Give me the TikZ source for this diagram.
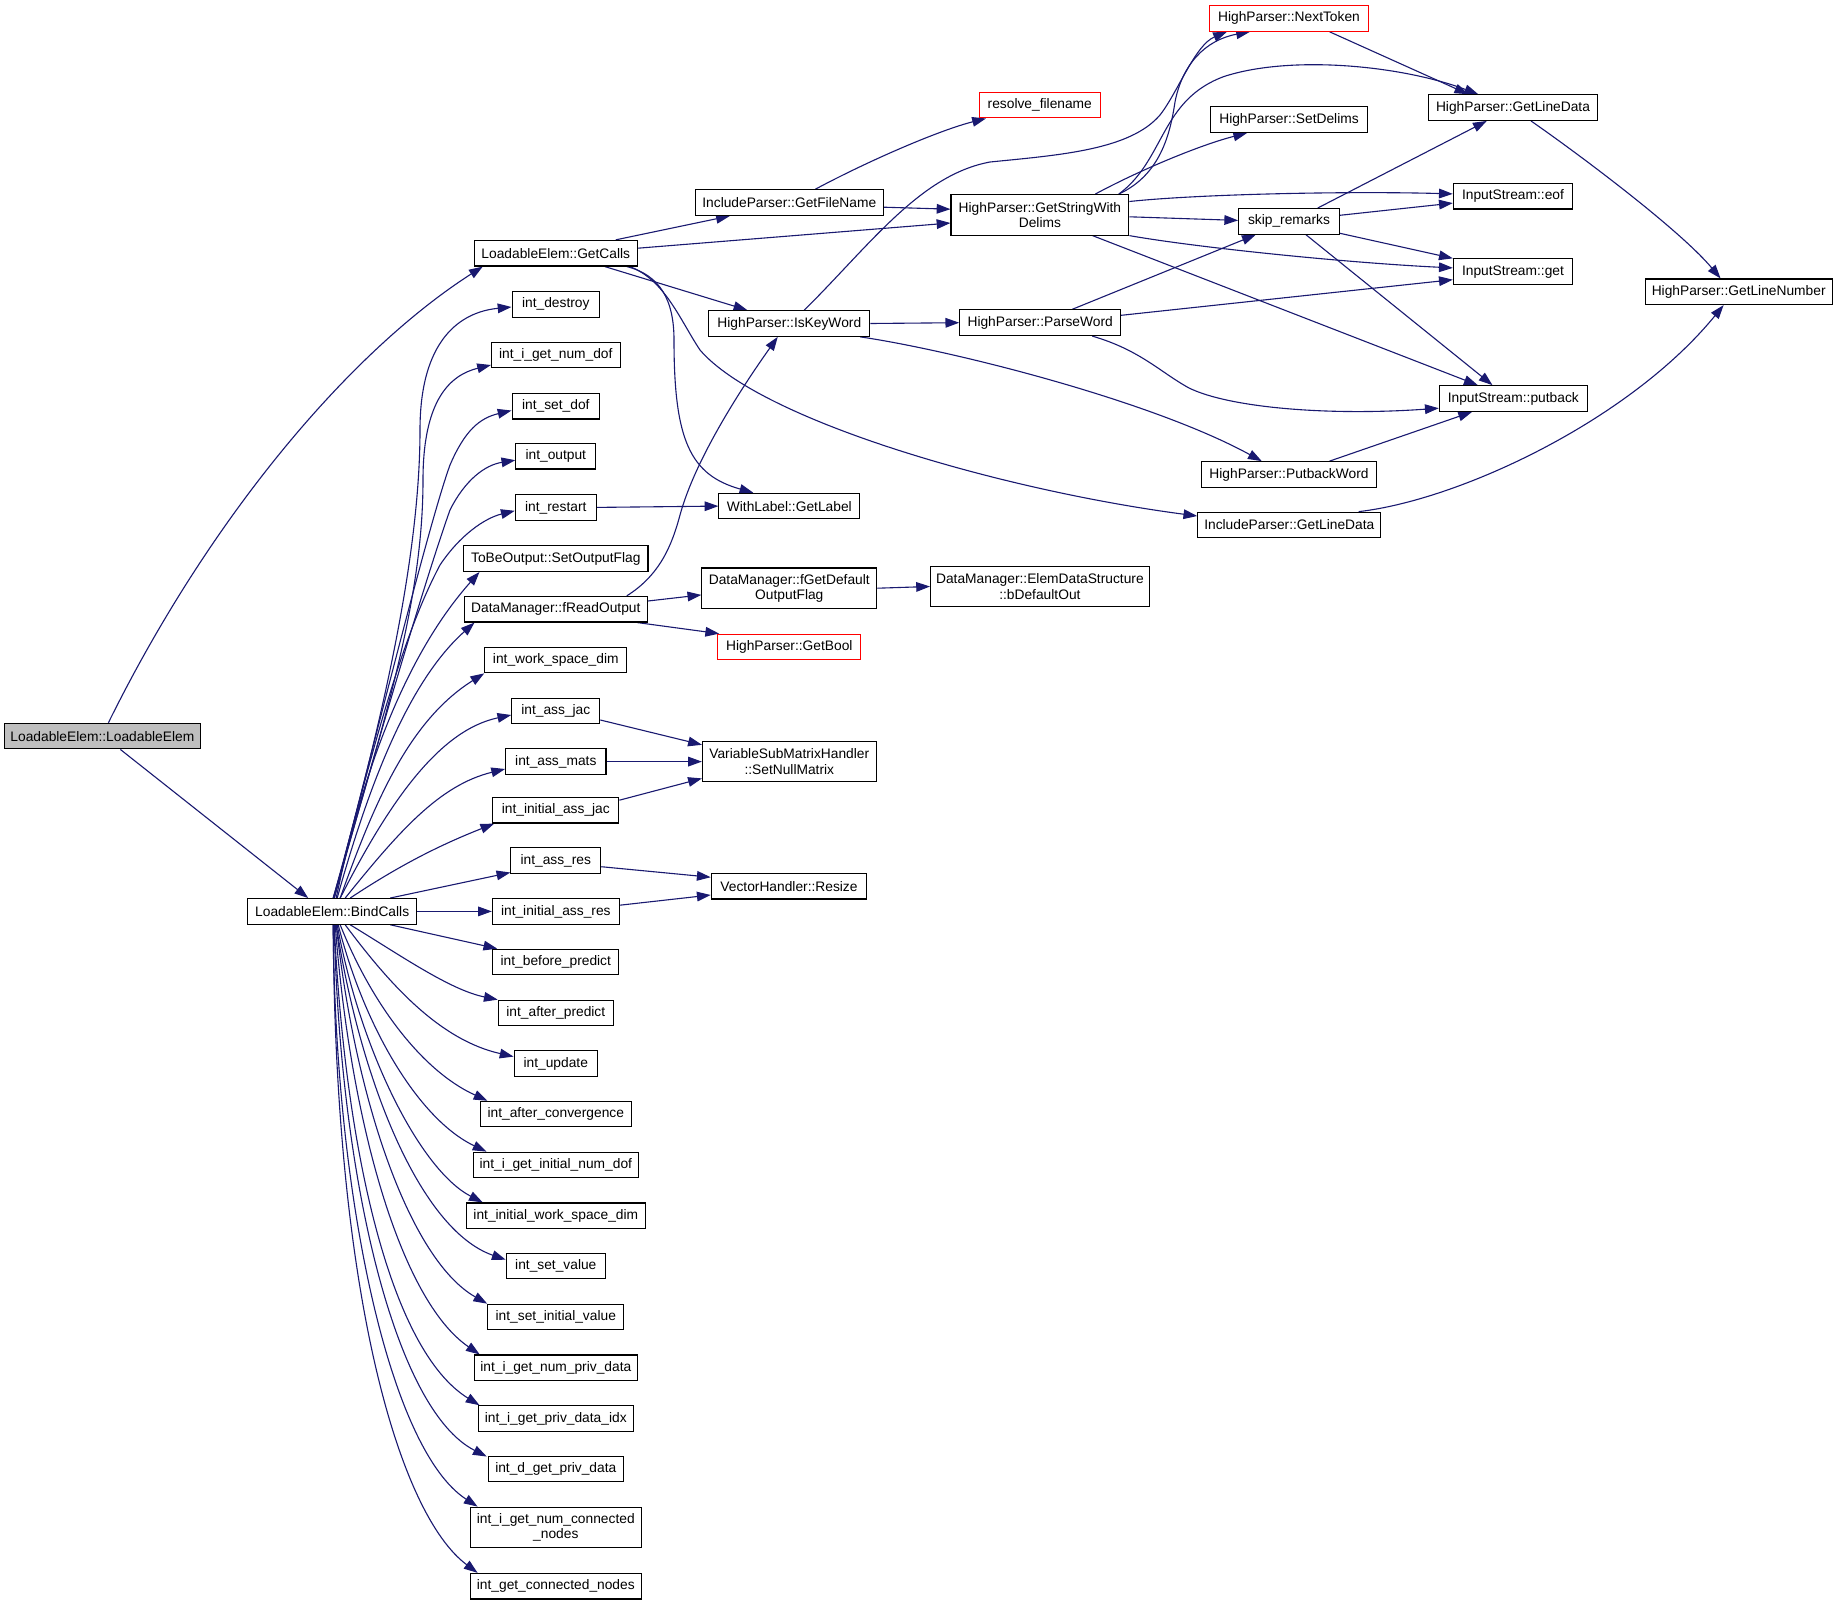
\documentclass[tikz,border=0pt]{standalone}
\usepackage{fontspec}
\setmainfont{Liberation Sans}
\usetikzlibrary{arrows.meta,calc,backgrounds}
\definecolor{navyc}{RGB}{25,25,112}
\definecolor{grayfill}{RGB}{191,191,191}
\begin{document}
\begin{tikzpicture}[x=0.7256pt,y=-0.7256pt,
  box/.style={draw=black, line width=0.8pt, fill=white, font=\fontsize{10}{11}\selectfont,
    inner xsep=2pt, inner ysep=0pt, minimum height=18.6pt, align=center},
  wd/.style={minimum width=#1*0.7256pt},
  two/.style={minimum height=29.4pt},
  hot/.style={draw=red},
  conn/.style={draw=navyc, line width=0.8pt, -{Triangle[length=10pt,width=7pt]}}]
\useasboundingbox (0,0) rectangle (1837,1605);

% ---------- nodes ----------
\node[box,wd=195.4,fill=grayfill] (le) at (102.4,736.1) {LoadableElem::LoadableElem};
\node[box,wd=169] (bc) at (332.2,911.4) {LoadableElem::BindCalls};
\node[box,wd=163] (gc) at (555.8,253.2) {LoadableElem::GetCalls};
\node[box,wd=87.5] (id) at (555.8,304.3) {int\_destroy};
\node[box,wd=128.5] (ignd) at (555.8,355) {int\_i\_get\_num\_dof};
\node[box,wd=87.5] (isd) at (555.8,406.2) {int\_set\_dof};
\node[box,wd=79.9] (io) at (555.8,456.2) {int\_output};
\node[box,wd=81] (ir) at (555.8,507.4) {int\_restart};
\node[box,wd=184.3] (tbo) at (555.8,558.6) {ToBeOutput::SetOutputFlag};
\node[box,wd=183.1] (fro) at (555.8,609.2) {DataManager::fReadOutput};
\node[box,wd=142.1] (iwsd) at (555.8,660) {int\_work\_space\_dim};
\node[box,wd=88] (iaj) at (555.8,711) {int\_ass\_jac};
\node[box,wd=100.3] (iam) at (555.8,761.6) {int\_ass\_mats};
\node[box,wd=126] (iiaj) at (555.8,810.2) {int\_initial\_ass\_jac};
\node[box,wd=89.8] (iar) at (555.8,860.5) {int\_ass\_res};
\node[box,wd=126.8] (iiar) at (555.8,911.4) {int\_initial\_ass\_res};
\node[box,wd=126] (ibp) at (555.8,962) {int\_before\_predict};
\node[box,wd=115] (iap) at (555.8,1013) {int\_after\_predict};
\node[box,wd=83.4] (iu) at (555.8,1063.6) {int\_update};
\node[box,wd=151.5] (iac) at (555.8,1114.1) {int\_after\_convergence};
\node[box,wd=165.5] (igind) at (555.8,1165) {int\_i\_get\_initial\_num\_dof};
\node[box,wd=179] (iiwsd) at (555.8,1215.8) {int\_initial\_work\_space\_dim};
\node[box,wd=99.1] (isv) at (555.8,1266.1) {int\_set\_value};
\node[box,wd=136.1] (isiv) at (555.8,1317) {int\_set\_initial\_value};
\node[box,wd=163.1] (ignpd) at (555.8,1367.8) {int\_i\_get\_num\_priv\_data};
\node[box,wd=155.5] (igpdi) at (555.8,1418.6) {int\_i\_get\_priv\_data\_idx};
\node[box,wd=135] (idgpd) at (555.8,1468.9) {int\_d\_get\_priv\_data};
\node[box,two,wd=171.3] (ignc) at (555.8,1527.4) {int\_i\_get\_num\_connected\\\_nodes};
\node[box,wd=171.3] (igcn) at (555.8,1586.2) {int\_get\_connected\_nodes};

\node[box,wd=187.8] (gfn) at (789.3,202.6) {IncludeParser::GetFileName};
\node[box,wd=160.8] (ikw) at (789.3,323.5) {HighParser::IsKeyWord};
\node[box,wd=140.8] (wl) at (789.3,506.1) {WithLabel::GetLabel};
\node[box,two,wd=174.9] (fgd) at (789.3,588.2) {DataManager::fGetDefault\\OutputFlag};
\node[box,hot,wd=143.2] (gb) at (789.3,647) {HighParser::GetBool};
\node[box,two,wd=173.7] (snm) at (789.3,761.6) {VariableSubMatrixHandler\\::SetNullMatrix};
\node[box,wd=155.5] (vr) at (789,886.2) {VectorHandler::Resize};

\node[box,hot,wd=120.5] (res) at (1039.8,105.1) {resolve\_filename};
\node[box,two,wd=177.8] (gsd) at (1039.9,214.8) {HighParser::GetStringWith\\Delims};
\node[box,wd=160.8] (pw) at (1040.2,322.7) {HighParser::ParseWord};
\node[box,two,wd=218.7] (bdo) at (1039.9,586.5) {DataManager::ElemDataStructure\\::bDefaultOut};

\node[box,hot,wd=159] (nt) at (1289,18.4) {HighParser::NextToken};
\node[box,wd=156.7] (sd) at (1289,119.6) {HighParser::SetDelims};
\node[box,wd=100.6] (sk) at (1289,221.4) {skip\_remarks};
\node[box,wd=175.4] (pbw) at (1289,474.5) {HighParser::PutbackWord};
\node[box,wd=183] (ipgld) at (1289.3,525) {IncludeParser::GetLineData};

\node[box,wd=168.4] (hgld) at (1513,107.6) {HighParser::GetLineData};
\node[box,wd=119.3] (eof) at (1513,196.2) {InputStream::eof};
\node[box,wd=119.3] (get) at (1513,271.7) {InputStream::get};
\node[box,wd=148] (pb) at (1513.3,398.5) {InputStream::putback};
\node[box,wd=187.2] (gln) at (1738.7,291.8) {HighParser::GetLineNumber};

% ---------- connectors ----------
\begin{scope}[on background layer]
\fill[white] (0,0) rectangle (1837,1605);
\draw[conn] ($(le.north)+(6,0)$) .. controls (211,515) and (351,351) .. ($(gc.south west)+(9,0)$);
\draw[conn] ($(le.south)+(18,0)$) -- ($(bc.north)+(-24,0)$);

\draw[conn] ($(gc.north)+(60,0)$) -- ($(gfn.south west)+(35,0)$);
\draw[conn] ($(gc.east)+(0,-5)$) -- ($(gsd.west)+(0,8.2)$);
\draw[conn] ($(gfn.east)+(0,4.6)$) -- ($(gsd.west)+(0,-5.6)$);
\draw[conn] ($(gc.south)+(49,0)$) -- ($(ikw.north west)+(39,0)$);
\draw[conn] ($(gc.south)+(71,0)$) .. controls (660,275) and (674,300) .. (674,340)
  .. controls (674,440) and (690,475) .. ($(wl.north west)+(35,0)$);
\draw[conn] ($(gc.south)+(74,0)$) .. controls (665,280) and (680,320) .. (700,350)
  .. controls (760,420) and (1000,490) .. ($(ipgld.west)+(0,-9)$);
\draw[conn] ($(gfn.north)+(26,0)$) .. controls (870,160) and (940,130) .. ($(res.south west)+(7,0)$);

\draw[conn] ($(ikw.north)+(15,0)$) .. controls (870,245) and (920,175) .. (990,162)
  .. controls (1060,155) and (1130,150) .. (1160,115)
  .. controls (1178,92) and (1195,45) .. ($(nt.south west)+(18,0)$);
\draw[conn] (ikw.east) -- (pw.west);
\draw[conn] ($(ikw.south east)+(-10,0)$) .. controls (950,350) and (1150,400) .. ($(pbw.north west)+(61,0)$);

\draw[conn] ($(gsd.north)+(79,0)$) .. controls (1160,175) and (1170,135) .. (1175,102)
  .. controls (1182,65) and (1205,40) .. ($(nt.south west)+(41,0)$);
\draw[conn] ($(gsd.north)+(79,0)$) .. controls (1165,160) and (1160,100) .. (1224,76.5)
  .. controls (1290,55) and (1400,65) .. ($(hgld.north west)+(50,0)$);
\draw[conn] ($(gsd.north)+(55.5,0)$) .. controls (1140,170) and (1200,145) .. ($(sd.south west)+(37,0)$);
\draw[conn] ($(gsd.east)+(0,-13.3)$) .. controls (1200,194) and (1350,191) .. ($(eof.west)+(0,-2.3)$);
\draw[conn] ($(gsd.east)+(0,2)$) -- ($(sk.west)+(0,-1)$);
\draw[conn] (gsd.south east) .. controls (1200,248) and (1350,263) .. ($(get.west)+(0,-3.8)$);
\draw[conn] ($(gsd.south)+(52.6,0)$) -- ($(pb.north west)+(39,0)$);

\draw[conn] ($(nt.south)+(40.5,0)$) -- ($(hgld.north west)+(40,0)$);

\draw[conn] ($(sk.north)+(28.7,0)$) -- ($(hgld.south west)+(58.5,0)$);
\draw[conn] ($(sk.east)+(0,-6.1)$) -- ($(eof.west)+(0,6.9)$);
\draw[conn] ($(sk.south east)+(0,-1.5)$) -- (get.north west);
\draw[conn] ($(sk.south)+(17,0)$) -- ($(pb.north west)+(53.7,0)$);

\draw[conn] ($(pw.north)+(32,0)$) -- ($(sk.south west)+(17.6,0)$);
\draw[conn] ($(pw.east)+(0,-7.4)$) -- ($(get.west)+(0,8)$);
\draw[conn] ($(pw.south)+(52,0)$) .. controls (1140,350) and (1160,372) .. (1189,388)
  .. controls (1230,408) and (1330,416) .. ($(pb.west)+(0,9.7)$);
\draw[conn] ($(pbw.north)+(40.5,0)$) -- ($(pb.south west)+(33.3,0)$);

\draw[conn] ($(ipgld.north)+(69.3,0)$) .. controls (1460,500) and (1630,420) .. ($(gln.south west)+(79,0)$);
\draw[conn] ($(hgld.south)+(18,0)$) .. controls (1580,155) and (1680,230) .. ($(gln.north west)+(76,0)$);

\draw[conn] (ir.east) -- (wl.west);
\draw[conn] ($(fro.north)+(71,0)$) .. controls (660,575) and (672,545) .. (680,515)
  .. controls (695,460) and (740,390) .. ($(ikw.south west)+(69.4,0)$);
\draw[conn] ($(fro.east)+(0,-8.2)$) -- ($(fgd.west)+(0,6.7)$);
\draw[conn] ($(fro.south east)+(-10.6,0)$) -- ($(gb.north west)+(2,0)$);
\draw[conn] (fgd.east) -- (bdo.west);
\draw[conn] ($(iaj.east)+(0,9)$) -- ($(snm.north west)+(0,4)$);
\draw[conn] (iam.east) -- (snm.west);
\draw[conn] ($(iiaj.east)+(0,-10)$) -- ($(snm.south west)+(0,-4)$);
\draw[conn] ($(iar.east)+(0,6.2)$) -- ($(vr.west)+(0,-9)$);
\draw[conn] ($(iiar.east)+(0,-6.2)$) -- ($(vr.west)+(0,8.8)$);

% BindCalls fan (upwards)
\draw[conn] ($(bc.north)+(1,0)$) .. controls (380,730) and (420,560) .. (420,430)
  .. controls (420,340) and (460,312) .. ($(id.west)+(0,2.7)$);
\draw[conn] ($(bc.north)+(1,0)$) .. controls (385,720) and (423,600) .. (423,480)
  .. controls (423,400) and (450,375) .. ($(ignd.west)+(0,10)$);
\draw[conn] ($(bc.north)+(2,0)$) .. controls (380,720) and (430,520) .. (450,465)
  .. controls (465,430) and (480,418) .. ($(isd.west)+(0,4.3)$);
\draw[conn] ($(bc.north)+(2,0)$) .. controls (375,750) and (425,580) .. (450,510)
  .. controls (465,480) and (485,465) .. ($(io.west)+(0,4)$);
\draw[conn] ($(bc.north)+(2,0)$) .. controls (370,760) and (400,640) .. (440,565)
  .. controls (460,535) and (485,518) .. ($(ir.west)+(0,3.4)$);
\draw[conn] ($(bc.north)+(4,0)$) .. controls (365,760) and (410,650) .. ($(tbo.south west)+(16.4,0)$);
\draw[conn] ($(bc.north)+(5,0)$) .. controls (370,780) and (410,680) .. ($(fro.south west)+(10.8,0)$);
\draw[conn] ($(bc.north)+(8,0)$) .. controls (375,800) and (410,720) .. (iwsd.south west);
\draw[conn] ($(bc.north)+(8,0)$) .. controls (390,800) and (440,730) .. ($(iaj.west)+(0,4)$);
\draw[conn] ($(bc.north)+(13,0)$) .. controls (400,830) and (440,785) .. ($(iam.west)+(0,7.4)$);
\draw[conn] ($(bc.north)+(18,0)$) .. controls (400,865) and (440,845) .. ($(iiaj.south west)+(2,0)$);
\draw[conn] ($(bc.north)+(58,0)$) -- ($(iar.west)+(0,12)$);
\draw[conn] (bc.east) -- (iiar.west);
% BindCalls fan (downwards)
\draw[conn] ($(bc.south)+(58,0)$) -- ($(ibp.north west)+(5,0)$);
\draw[conn] ($(bc.south)+(18,0)$) .. controls (400,955) and (450,990) .. (iap.north west);
\draw[conn] ($(bc.south)+(13,0)$) .. controls (390,985) and (440,1040) .. ($(iu.west)+(0,-7)$);
\draw[conn] ($(bc.south)+(8,0)$) .. controls (370,1000) and (420,1070) .. ($(iac.north west)+(8,0)$);
\draw[conn] ($(bc.south)+(6,0)$) .. controls (365,1030) and (420,1120) .. ($(igind.north west)+(14,0)$);
\draw[conn] ($(bc.south)+(5,0)$) .. controls (360,1050) and (420,1170) .. ($(iiwsd.north west)+(17,0)$);
\draw[conn] ($(bc.south)+(4,0)$) .. controls (360,1080) and (420,1230) .. ($(isv.west)+(0,-6.4)$);
\draw[conn] ($(bc.south)+(4,0)$) .. controls (355,1100) and (410,1260) .. (isiv.north west);
\draw[conn] ($(bc.south)+(3,0)$) .. controls (350,1120) and (400,1300) .. ($(ignpd.north west)+(6,0)$);
\draw[conn] ($(bc.south)+(2,0)$) .. controls (345,1150) and (390,1350) .. ($(igpdi.north west)+(2,0)$);
\draw[conn] ($(bc.south)+(2,0)$) .. controls (340,1180) and (395,1410) .. ($(idgpd.north west)+(-1,1)$);
\draw[conn] ($(bc.south)+(1,0)$) .. controls (335,1200) and (390,1450) .. ($(ignc.north west)+(8,0)$);
\draw[conn] ($(bc.south)+(1,0)$) .. controls (335,1300) and (400,1515) .. ($(igcn.north west)+(8,0)$);
\end{scope}
\end{tikzpicture}
\end{document}
